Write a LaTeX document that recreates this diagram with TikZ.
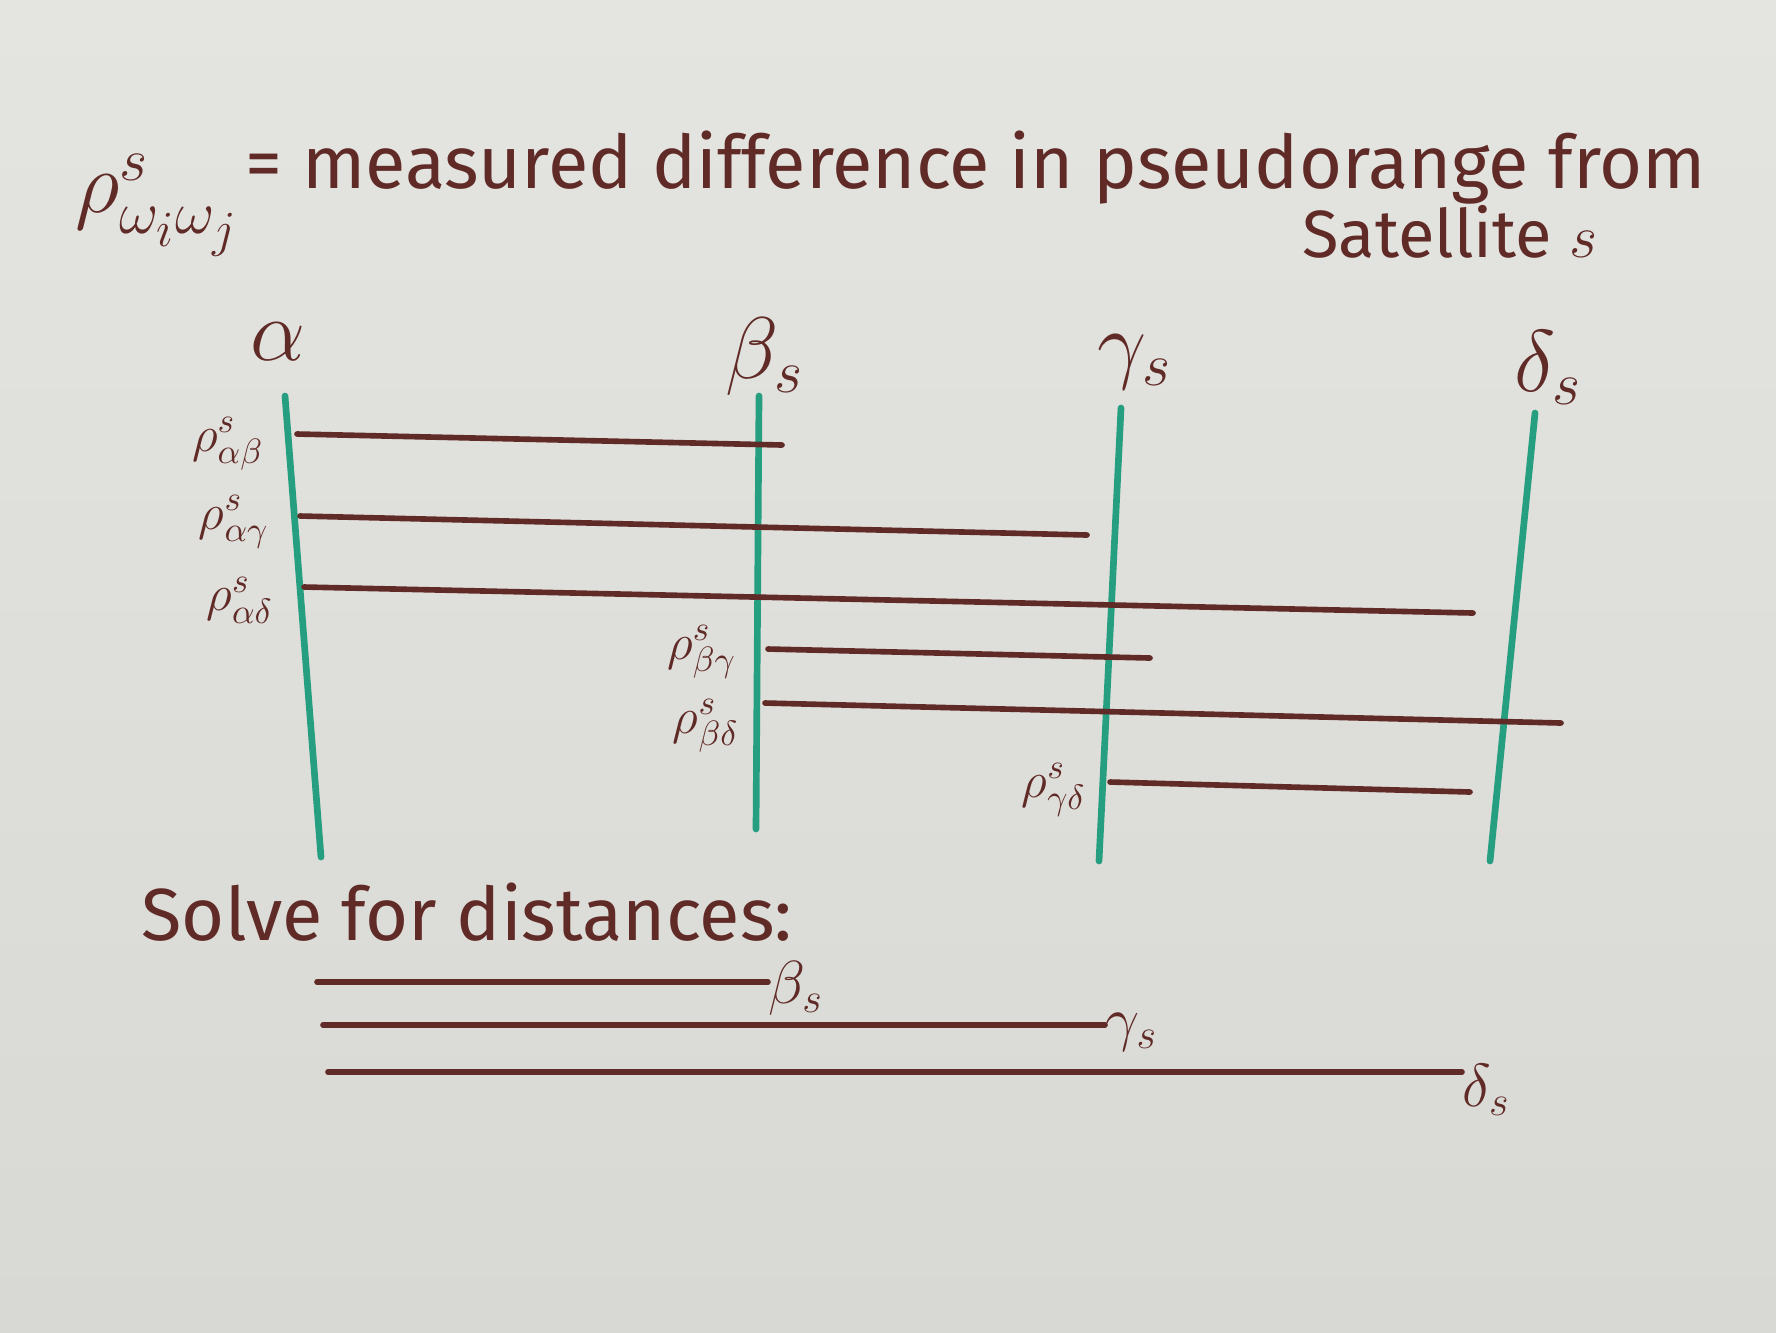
\documentclass[tikz,border=0pt]{standalone}
\usepackage{fontspec}
\setmainfont{Fira Sans}
\begin{document}
\begin{tikzpicture}[x=0.01cm,y=-0.01cm,
  ink/.style={draw=inkc,line width=1.6pt,line cap=round},
  axis/.style={draw=greenc,line width=1.9pt,line cap=round},
  txt/.style={text=inkc,inner sep=0pt,font=\fontsize{21}{25}\selectfont},
  subtxt/.style={text=inkc,inner sep=0pt,font=\fontsize{19}{23}\selectfont},
  bigrho/.style={text=inkc,inner sep=0pt,font=\fontsize{27}{31}\selectfont},
  glab/.style={text=inkc,inner sep=0pt,font=\fontsize{26}{30}\selectfont},
  rlab/.style={text=inkc,inner sep=0pt,font=\fontsize{14}{17}\selectfont},
  blab/.style={text=inkc,inner sep=0pt,font=\fontsize{18}{22}\selectfont}]
\definecolor{inkc}{RGB}{96,42,38}
\definecolor{greenc}{RGB}{38,158,128}
\definecolor{boardtop}{RGB}{228,228,224}
\definecolor{boardbot}{RGB}{216,216,212}
\useasboundingbox (0,0) rectangle (1776,1332);
\shade[top color=boardtop,bottom color=boardbot] (0,0) rectangle (1776,1332);

% title
\node[bigrho,anchor=east] (rho) at (240,205) {$\rho^{s}_{\omega_i\omega_j}$};
\node[txt,anchor=west] (title) at (245,168) {= measured difference in pseudorange from};
\node[subtxt] (sat) at (1450,232) {Satellite $s$};

% column labels
\node[glab] (la) at (278,342) {$\alpha$};
\node[glab] (lb) at (765,357) {$\beta_s$};
\node[glab] (lg) at (1135,362) {$\gamma_s$};
\node[glab] (ld) at (1548,368) {$\delta_s$};

% vertical lines
\coordinate (a1) at (285,396); \coordinate (a2) at (321,857);
\coordinate (b1) at (759,396); \coordinate (b2) at (756,829);
\coordinate (g1) at (1121,408); \coordinate (g2) at (1099,861);
\coordinate (d1) at (1535,413); \coordinate (d2) at (1490,861);
\draw[axis] (a1) -- (a2);
\draw[axis] (b1) -- (b2);
\draw[axis] (g1) -- (g2);
\draw[axis] (d1) -- (d2);

% pseudorange differences
\coordinate (ab1) at (297,434); \coordinate (ab2) at (782,445);
\coordinate (ag1) at (300,516); \coordinate (ag2) at (1087,535);
\coordinate (ad1) at (304,587); \coordinate (ad2) at (1473,613);
\coordinate (bg1) at (768,649); \coordinate (bg2) at (1150,658);
\coordinate (bd1) at (765,703); \coordinate (bd2) at (1561,723);
\coordinate (gd1) at (1110,782); \coordinate (gd2) at (1470,792);
\draw[ink] (ab1) -- (ab2);
\draw[ink] (ag1) -- (ag2);
\draw[ink] (ad1) -- (ad2);
\draw[ink] (bg1) -- (bg2);
\draw[ink] (bd1) -- (bd2);
\draw[ink] (gd1) -- (gd2);

\node[rlab] (rab) at (228,444) {$\rho^{s}_{\alpha\beta}$};
\node[rlab] (rag) at (234,522) {$\rho^{s}_{\alpha\gamma}$};
\node[rlab] (rad) at (240,600) {$\rho^{s}_{\alpha\delta}$};
\node[rlab] (rbg) at (702,652) {$\rho^{s}_{\beta\gamma}$};
\node[rlab] (rbd) at (706,726) {$\rho^{s}_{\beta\delta}$};
\node[rlab] (rgd) at (1054,790) {$\rho^{s}_{\gamma\delta}$};

% solve for distances
\node[txt] (solve) at (467,912) {Solve for distances:};
\coordinate (s1a) at (317,982);
\coordinate (s2a) at (323,1025);
\coordinate (s3a) at (328,1072);
\node[blab,anchor=west] (sb) at (768,988) {$\beta_s$};
\node[blab,anchor=west] (sg) at (1105,1032) {$\gamma_s$};
\node[blab,anchor=west] (sd) at (1462,1090) {$\delta_s$};
\draw[ink] (s1a) -- (s1a -| sb.west);
\draw[ink] (s2a) -- (s2a -| sg.west);
\draw[ink] (s3a) -- (s3a -| sd.west);
\end{tikzpicture}
\end{document}
